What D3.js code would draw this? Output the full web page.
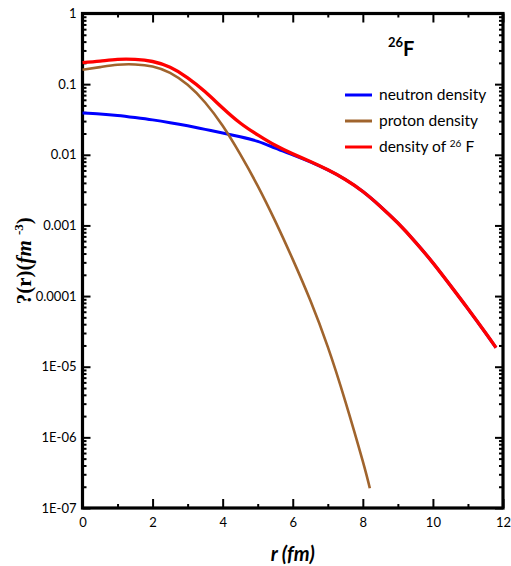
<!DOCTYPE html>
<html>
<head>
<meta charset="utf-8">
<script src="https://cdn.jsdelivr.net/npm/d3@7/dist/d3.min.js"></script>
<style>
  html, body { margin: 0; padding: 0; background: #fff; }
  svg { display: block; }
  text { font-family: Lato, "Open Sans", sans-serif; }
</style>
</head>
<body>
<svg id="chart" width="511" height="566"></svg>
<script>
// Radial density distributions of 26F (fm^-3) versus r (fm)
const rNeutron = [0, 0.5, 1, 1.5, 2, 2.5, 3, 3.5, 4, 4.5, 5, 5.5, 6, 6.5, 7, 7.5, 8, 8.5, 9, 9.5, 10, 10.5, 11, 11.5, 11.8];
const neutronDensity = [0.0389, 0.0378, 0.0361, 0.0337, 0.0312, 0.0285, 0.0257, 0.0229, 0.0204, 0.0180, 0.0155, 0.01245, 0.0100, 0.00794, 0.0061, 0.00447, 0.00302, 0.00186, 0.00108, 0.000582, 0.000295, 0.000141, 0.0000661, 0.0000302, 0.0000186];

const rProton = [0, 0.5, 1, 1.5, 2, 2.5, 3, 3.5, 4, 4.5, 5, 5.5, 6, 6.5, 7, 7.5, 8, 8.2];
const protonDensity = [0.160, 0.174, 0.188, 0.190, 0.178, 0.1445, 0.0977, 0.055, 0.0257, 0.0102, 0.00363, 0.00115, 0.000331, 0.0000871, 0.0000191, 0.00000324, 0.000000457, 0.00000019];

const rTotal = [0, 0.5, 1, 1.5, 2, 2.5, 3, 3.5, 4, 4.5, 5, 5.5, 6, 6.5, 7, 7.5, 8, 8.5, 9, 9.5, 10, 10.5, 11, 11.5, 11.8];
const totalDensity = [0.202, 0.212, 0.224, 0.224, 0.209, 0.173, 0.123, 0.078, 0.046, 0.0282, 0.0191, 0.0136, 0.0103, 0.00803, 0.00612, 0.00447, 0.00302, 0.00186, 0.00108, 0.000582, 0.000295, 0.000141, 0.0000661, 0.0000302, 0.0000186];

const xTicks = [0, 2, 4, 6, 8, 10, 12];
const xMinorTicks = [1, 3, 5, 7, 9, 11];
const yTicks = [1, 0.1, 0.01, 0.001, 0.0001, 1e-5, 1e-6, 1e-7];
const yTickLabels = ["1", "0.1", "0.01", "0.001", "0.0001", "1E-05", "1E-06", "1E-07"];

const legendLabels = ["neutron density", "proton density", "density of "];
const seriesColors = ["#0000ff", "#a0642d", "#ff0000"];

const svg = d3.select("#chart");
const plotLeft = 82.5, plotRight = 503, plotTop = 13.5, plotBottom = 508;

const x = d3.scaleLinear().domain([0, 12]).range([plotLeft, plotRight]);
const y = d3.scaleLog().domain([1e-7, 1]).range([plotBottom, plotTop]);

// minor log ticks (2..9 in each decade)
const yMinor = [];
for (let e = -7; e < 0; e++) {
  for (let m = 2; m <= 9; m++) yMinor.push(m * Math.pow(10, e));
}

const axisStyle = g => {
  g.select(".domain").remove();
  g.selectAll(".tick line").attr("stroke", "#000").attr("stroke-width", 2);
};

// left axis: labels + inward ticks
svg.append("g")
  .attr("transform", `translate(${plotLeft},0)`)
  .call(d3.axisLeft(y).tickValues(yTicks).tickSize(-8).tickPadding(6)
    .tickFormat((d, i) => yTickLabels[i]))
  .call(axisStyle)
  .call(g => g.selectAll("text").attr("font-size", 13).attr("fill", "#000")
    .style("font-family", "Lato, sans-serif"));
svg.append("g")
  .attr("transform", `translate(${plotLeft},0)`)
  .call(d3.axisLeft(y).tickValues(yMinor).tickSize(-4).tickFormat(""))
  .call(axisStyle);

// right axis: inward ticks only
svg.append("g")
  .attr("transform", `translate(${plotRight},0)`)
  .call(d3.axisRight(y).tickValues(yTicks).tickSize(-8).tickFormat(""))
  .call(axisStyle);
svg.append("g")
  .attr("transform", `translate(${plotRight},0)`)
  .call(d3.axisRight(y).tickValues(yMinor).tickSize(-4).tickFormat(""))
  .call(axisStyle);

// bottom axis
svg.append("g")
  .attr("transform", `translate(0,${plotBottom})`)
  .call(d3.axisBottom(x).tickValues(xTicks).tickSize(-9).tickPadding(10).tickFormat(d3.format("d")))
  .call(axisStyle)
  .call(g => g.selectAll("text").attr("font-size", 13).attr("fill", "#000")
    .style("font-family", "Lato, sans-serif"));
svg.append("g")
  .attr("transform", `translate(0,${plotBottom})`)
  .call(d3.axisBottom(x).tickValues(xMinorTicks).tickSize(-4).tickFormat(""))
  .call(axisStyle);

// top axis
svg.append("g")
  .attr("transform", `translate(0,${plotTop})`)
  .call(d3.axisTop(x).tickValues(xTicks).tickSize(-9).tickFormat(""))
  .call(axisStyle);
svg.append("g")
  .attr("transform", `translate(0,${plotTop})`)
  .call(d3.axisTop(x).tickValues(xMinorTicks).tickSize(-4).tickFormat(""))
  .call(axisStyle);

// frame
svg.append("rect")
  .attr("x", plotLeft).attr("y", plotTop)
  .attr("width", plotRight - plotLeft).attr("height", plotBottom - plotTop)
  .attr("fill", "none").attr("stroke", "#000").attr("stroke-width", 3.2);

// curves
const line = d3.line()
  .x(d => x(d[0]))
  .y(d => y(d[1]))
  .curve(d3.curveNatural);

const series = [
  { r: rNeutron, v: neutronDensity, color: seriesColors[0], w: 3 },
  { r: rProton, v: protonDensity, color: seriesColors[1], w: 2.6 },
  { r: rTotal, v: totalDensity, color: seriesColors[2], w: 3.4 }
];
series.forEach(s => {
  svg.append("path")
    .datum(s.r.map((r, i) => [r, s.v[i]]))
    .attr("d", line)
    .attr("fill", "none")
    .attr("stroke", s.color)
    .attr("stroke-width", s.w)
    .attr("stroke-linejoin", "round");
});

// title
const title = svg.append("text")
  .attr("x", 388).attr("y", 56)
  .attr("font-weight", "bold").attr("fill", "#000");
title.append("tspan").attr("font-size", 13).attr("dy", -9).text("26");
title.append("tspan").attr("font-size", 20).attr("dy", 9).text("F");

// legend
const legendY = [95, 121, 147];
legendLabels.forEach((lab, i) => {
  svg.append("line")
    .attr("x1", 345).attr("x2", 372)
    .attr("y1", legendY[i]).attr("y2", legendY[i])
    .attr("stroke", seriesColors[i]).attr("stroke-width", 3);
  const t = svg.append("text")
    .attr("x", 379).attr("y", legendY[i] + 5)
    .attr("font-size", 15.5).attr("fill", "#000").text(lab);
  if (i === 2) {
    t.append("tspan").attr("font-size", 10).attr("dy", -5).text("26");
    t.append("tspan").attr("font-size", 15.5).attr("dy", 5).text(" F");
  }
});

// axis titles
svg.append("text")
  .attr("x", x(6)).attr("y", 561)
  .attr("text-anchor", "middle")
  .attr("font-size", 20).attr("font-weight", "bold").attr("font-style", "italic")
  .attr("fill", "#000")
  .text("r (fm)");

const yt = svg.append("text")
  .attr("transform", `translate(31,${(plotTop + plotBottom) / 2}) rotate(-90)`)
  .attr("text-anchor", "middle")
  .attr("font-size", 21).attr("font-weight", "bold")
  .attr("fill", "#000")
  .style("font-family", "'Liberation Serif', serif");
yt.append("tspan").text("?(r)(");
yt.append("tspan").attr("font-style", "italic").text("fm ");
yt.append("tspan").attr("font-size", 13).attr("dy", -8).text("-3");
yt.append("tspan").attr("dy", 8).text(")");
</script>
</body>
</html>
